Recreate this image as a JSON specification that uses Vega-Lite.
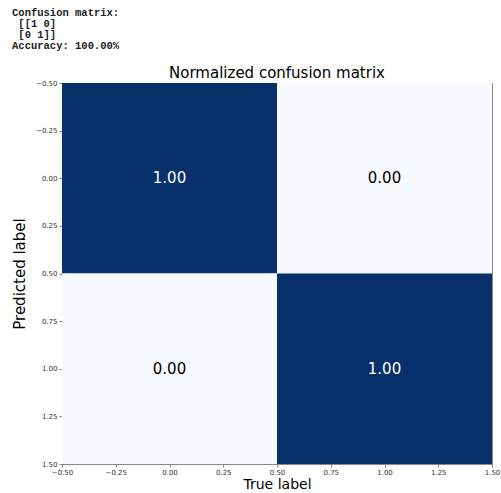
{
  "$schema": "https://vega.github.io/schema/vega-lite/v6.json",
  "padding": {"left": 12, "top": 8, "right": 7, "bottom": 0},
  "background": "white",
  "title": {
    "text": ["Confusion matrix:", "\u200b\u00a0[[1 0]", "\u200b\u00a0[0 1]]", "Accuracy: 100.00%"],
    "anchor": "start",
    "frame": "bounds",
    "font": "Liberation Mono",
    "fontSize": 10.5,
    "fontWeight": "bold",
    "lineHeight": 11,
    "color": "#222222",
    "offset": 14
  },
  "vconcat": [
    {
      "width": 430,
      "height": 381,
      "title": {
        "text": "Normalized confusion matrix",
        "font": "DejaVu Sans",
        "fontSize": 15,
        "fontWeight": "normal",
        "color": "#000000",
        "offset": -2
      },
      "data": {
        "values": [
          {"true": 0, "pred": 0, "value": 1.0, "true_lo": -0.5, "true_hi": 0.5, "pred_lo": -0.5, "pred_hi": 0.5},
          {"true": 1, "pred": 0, "value": 0.0, "true_lo": 0.5, "true_hi": 1.5, "pred_lo": -0.5, "pred_hi": 0.5},
          {"true": 0, "pred": 1, "value": 0.0, "true_lo": -0.5, "true_hi": 0.5, "pred_lo": 0.5, "pred_hi": 1.5},
          {"true": 1, "pred": 1, "value": 1.0, "true_lo": 0.5, "true_hi": 1.5, "pred_lo": 0.5, "pred_hi": 1.5}
        ]
      },
      "layer": [
        {
          "mark": {"type": "rect", "strokeWidth": 0},
          "encoding": {
            "x": {
              "field": "true_lo", "type": "quantitative",
              "scale": {"domain": [-0.5, 1.5], "nice": false, "zero": false},
              "axis": {"title": "True label", "values": [-0.5, -0.25, 0, 0.25, 0.5, 0.75, 1, 1.25, 1.5], "format": ".2f"}
            },
            "x2": {"field": "true_hi"},
            "y": {
              "field": "pred_lo", "type": "quantitative",
              "scale": {"domain": [-0.5, 1.5], "nice": false, "zero": false, "reverse": true},
              "axis": {"title": "Predicted label", "values": [-0.5, -0.25, 0, 0.25, 0.5, 0.75, 1, 1.25, 1.5], "format": ".2f"}
            },
            "y2": {"field": "pred_hi"},
            "color": {
              "field": "value", "type": "quantitative",
              "scale": {"domain": [0, 1], "range": ["#f7fbff", "#08306b"]},
              "legend": null
            }
          }
        },
        {
          "mark": {"type": "text", "font": "DejaVu Sans", "fontSize": 15, "align": "center", "baseline": "middle"},
          "encoding": {
            "x": {"field": "true", "type": "quantitative"},
            "y": {"field": "pred", "type": "quantitative"},
            "text": {"field": "value", "type": "quantitative", "format": ".2f"},
            "color": {
              "condition": {"test": "datum.value > 0.5", "value": "white"},
              "value": "black"
            }
          }
        }
      ]
    }
  ],
  "config": {
    "view": {"stroke": "#888888", "strokeWidth": 1},
    "axis": {
      "grid": false,
      "domainColor": "#888888",
      "tickColor": "#888888",
      "tickSize": 3,
      "labelFont": "DejaVu Sans",
      "labelFontSize": 7,
      "labelColor": "#333333",
      "labelFlush": false,
      "titleFont": "DejaVu Sans",
      "titleFontSize": 15,
      "titleFontWeight": "normal",
      "titleColor": "#000000"
    },
    "axisX": {"titlePadding": 2, "labelPadding": 1, "titleFontSize": 14},
    "axisY": {"titlePadding": 8}
  }
}
